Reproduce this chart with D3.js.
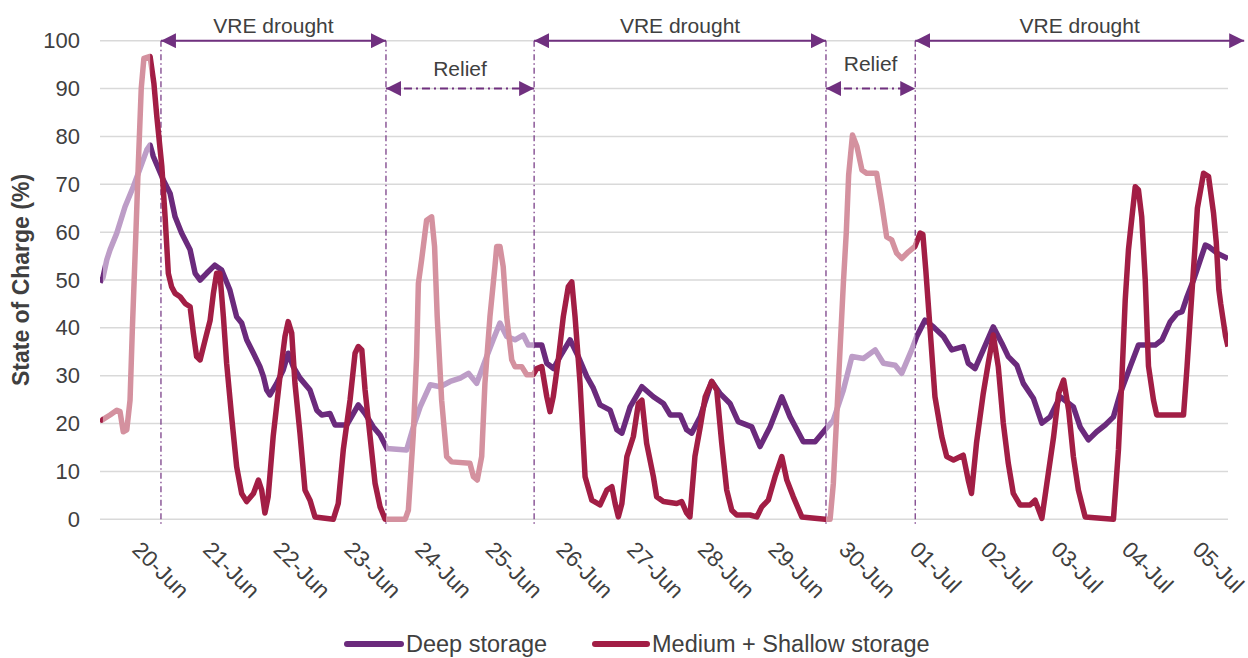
<!DOCTYPE html>
<html>
<head>
<meta charset="utf-8">
<script src="https://cdn.jsdelivr.net/npm/d3@7"></script>
<style>
  html, body { margin: 0; padding: 0; background: #ffffff; }
  svg { display: block; font-family: "Liberation Sans", Arial, sans-serif; }
</style>
</head>
<body>
<svg id="chart" width="1248" height="658"></svg>
<script>
// ---------- DATA (hours measured from 20-Jun 00:00) ----------
const dateLabels = ['20-Jun','21-Jun','22-Jun','23-Jun','24-Jun','25-Jun','26-Jun','27-Jun','28-Jun','29-Jun','30-Jun','01-Jul','02-Jul','03-Jul','04-Jul','05-Jul'];
const yTicks = [0,10,20,30,40,50,60,70,80,90,100];

const deepHours = [-10,-9,-7.7,-6.6,-4.3,-1.5,1.3,3.0,5.9,7.0,8.1,11.5,13.8,15.5,17.7,20.6,22.3,24.0,26.2,29.0,31.3,34.1,36.4,38.1,39.8,42.1,44.3,45.5,46.6,47.7,50.0,52.2,53.9,55.6,57.9,61.3,63.6,65.3,68.1,69.8,73.8,76.0,77.7,80.0,82.8,85.1,87.4,94.1,96.4,98.7,102.1,105.5,108.9,112.3,115.1,117.9,121.3,123.5,125.8,128.1,130.9,133.7,135.4,140.0,141.7,144.0,146.2,149.6,152.4,155.3,157.5,159.8,163.2,165.5,167.2,170.0,174.0,177.9,181.3,183.6,187.0,189.2,190.9,193.8,197.7,200.5,203.9,206.7,211.3,214.1,217.5,221.5,224.3,228.8,232.8,236.2,239.0,242.4,245.3,249.2,253.2,256.0,260.0,262.2,265.6,267.3,270.1,273.0,276.4,279.2,283.1,284.8,287.1,289.9,293.3,296.2,298.4,301.3,303.5,306.9,309.8,312.6,316.0,320.5,322.8,325.6,328.4,331.3,334.1,336.4,339.8,342.6,348.3,350.6,353.4,355.7,357.4,359.1,361.3,363.6,365.3,366.4,369.3,373.0];
const deepValues = [49.5,50.5,54.2,56.3,59.8,65.3,69.5,72.3,77.2,78.2,75.8,70.9,68.1,63.2,59.8,56.3,51.4,50,51.4,53.1,52.1,47.9,42.3,41,37.5,34.7,31.9,29.8,27,26,28.4,31.2,34.7,31.9,29.5,27,22.8,21.8,22.1,19.7,19.7,22.1,23.9,22.1,19.3,17.6,14.8,14.5,19.3,23.5,28.1,27.7,28.8,29.5,30.5,28.4,34,37.5,41,38.2,37.5,38.5,36.4,36.4,32.6,31.5,34,37.5,34,29.8,27.4,23.9,22.8,18.7,18,23.5,27.7,25.6,24.2,21.8,21.8,18.7,18,21.4,28.8,26.3,24.2,20.4,19.3,15.2,19.3,25.6,21.4,16.2,16.2,18.7,20.7,27,34,33.6,35.4,32.6,32.2,30.5,35.4,38.2,41.6,40.2,38.2,35.4,36.1,32.6,31.5,35.4,40.2,36.8,34,32.2,28.4,25.3,20.1,21.4,25.6,23.5,19.3,16.6,18.3,19.7,21.4,26.3,31.9,36.4,36.4,37.5,41.3,43,43.4,46.5,50,54.2,57.3,57,55.6,54.5];

const msHours = [-10,-9.4,-6.6,-4.3,-3.2,-2.1,-0.9,0.2,1.0,2.2,3.0,4.0,4.9,7.0,8.3,9.3,11.0,12.1,13.2,14.3,15.5,17.2,18.9,20.6,21.7,22.8,24.0,25.7,27.4,28.5,29.6,30.7,31.9,33.0,34.7,36.4,38.1,39.8,42.1,43.8,44.9,46.0,47.1,48.8,51.1,52.8,53.9,55.1,56.2,57.9,59.6,61.3,63.0,69.2,70.9,72.6,74.9,76.6,77.7,78.9,80.0,81.7,83.4,85.1,86.8,93.6,94.7,96.4,97.5,98.1,99.2,100.9,102.6,103.6,104.5,106.0,107.7,109.4,115.6,116.8,118.1,119.6,120.7,122.4,124.1,124.7,125.8,126.9,128.1,129.8,130.9,133.2,134.9,137.1,138.3,140.0,141.7,142.8,143.9,145.6,147.3,149.0,150.2,151.3,153.0,154.7,157.0,159.8,162.1,163.8,164.9,166.0,167.2,168.9,171.1,172.8,174.0,175.6,177.9,179.0,181.3,185.8,187.5,189.2,190.3,192.0,193.8,195.5,197.7,199.4,201.1,202.8,204.5,206.2,210.7,213.0,214.7,216.9,219.2,221.5,223.2,225.4,228.3,236.2,237.9,239.0,240.7,242.4,243.4,244.2,245.5,247.0,248.7,250.3,253.7,255.4,257.1,258.8,260.5,262.2,264.5,266.7,268.5,269.4,270.4,273.5,275.8,277.5,279.8,283.1,284.8,285.9,287.6,289.9,291.6,293.3,295.0,296.7,298.4,300.1,302.4,305.8,307.5,309.8,311.5,313.8,315.5,317.2,318.9,320.5,322.2,324.5,334.1,335.8,336.9,338.1,339.2,339.8,341.5,342.6,343.7,344.9,346.0,347.7,348.8,357.9,359.1,360.2,361.7,362.6,364.7,366.4,368.1,369.0,369.9,370.5,372.2,373.0];
const msValues = [21,20.7,21.8,22.8,22.5,18.3,18.7,24.9,40,60,74,90,96.3,96.7,91.1,84.1,73.7,63.2,51.4,48.6,47.2,46.5,45.1,44.4,38.9,34,33.3,37.5,41.6,47.2,51.4,51.4,42.3,32.6,21.4,11,5.4,3.7,5.4,8.2,6.1,1.3,4.7,17.3,29.8,38.2,41.3,38.9,28.4,18,6.1,4,0.5,0,3.3,14.5,24.9,34.7,36.1,35.4,27,17.3,7.5,2.6,0,0,1.9,18,34,49.3,54.2,62.5,63.2,57,42.3,24.9,13.1,12,11.7,8.9,8.2,13.1,28.4,42.3,52.8,57,57,52.8,42.3,33.3,31.9,31.9,30.2,30.2,31.5,31.9,25.6,22.5,25.6,33.3,42.3,48.6,49.6,42.3,28.4,8.9,4,3,6.1,6.8,3.3,0.5,3.3,13.1,17.3,24.2,24.9,15.9,8.9,4.7,3.7,3.3,3.7,1.3,0.5,13.1,19.3,25.6,28.8,27,15.9,6.1,1.9,0.9,0.9,0.5,2.6,4,8.9,13.1,8.2,4.7,0.5,0,0,7.5,28.4,49.3,60,72,80.3,77.9,73,72.3,72.3,66,59,58.4,55.6,54.5,55.9,57,59.8,59.5,52,25.6,17.3,13.1,12.4,13.4,8.2,5.4,15.9,26.3,32.6,38.5,31.9,20.1,11.7,5.4,3,3,4,0.2,7.5,17.3,26.3,29.1,22.8,13.1,6.1,0.5,0,14.5,28.4,45.8,56.3,59.8,69.5,68.8,63.2,50,32,24.9,21.8,21.8,31.9,42.3,56,65,72.3,71.6,63.9,58,48,45.1,38.2,36.1];

// periods (hours): shaded light where not "drought"
const lightPeriods = [[-9,7],[87.1,137.4],[236.5,266.8]];
const darkPeriods = [[-10,-9],[7,87.1],[137.4,236.5],[266.8,373]];
const droughtArrows = [[10.7,87.1],[137.4,236.5],[266.8,378.5]];
const reliefArrows = [[87.1,137.4],[236.5,266.8]];
const dividerHours = [10.7,87.1,137.4,236.5,266.8];

const seriesNames = ['Deep storage','Medium + Shallow storage'];

// ---------- STYLE ----------
const C = {
  deepDark: '#6B2A7C', deepLight: '#BD9DC7',
  msDark: '#A21E45', msLight: '#D4919F',
  annot: '#70307F', grid: '#D9D9D9', text: '#404040'
};

const svg = d3.select('#chart');
const x = d3.scaleLinear().domain([-10, 373]).range([100, 1228]);
const y = d3.scaleLinear().domain([0, 100]).range([519.3, 40.7]);

// defs: clip paths + markers
const defs = svg.append('defs');
function addClip(id, periods) {
  const cp = defs.append('clipPath').attr('id', id);
  periods.forEach(p => {
    cp.append('rect').attr('x', x(p[0])).attr('y', 0)
      .attr('width', x(p[1]) - x(p[0])).attr('height', 658);
  });
}
addClip('clipDark', darkPeriods);
addClip('clipLight', lightPeriods);

['start','end'].forEach(k => {
  defs.append('marker').attr('id', 'arr-' + k)
    .attr('viewBox', '0 0 15 15').attr('refX', k === 'end' ? 15 : 0).attr('refY', 7.5)
    .attr('markerUnits', 'userSpaceOnUse')
    .attr('markerWidth', 15).attr('markerHeight', 15).attr('orient', 'auto')
    .append('path')
    .attr('d', k === 'end' ? 'M0,0 L15,7.5 L0,15 Z' : 'M15,0 L0,7.5 L15,15 Z')
    .attr('fill', C.annot);
});

// gridlines
svg.append('g').selectAll('line').data(yTicks).join('line')
  .attr('x1', x(-10)).attr('x2', x(373))
  .attr('y1', d => y(d)).attr('y2', d => y(d))
  .attr('stroke', C.grid).attr('stroke-width', 1.5);

// y axis via d3.axisLeft (labels only)
const yAxis = svg.append('g').attr('transform', 'translate(84,0)')
  .call(d3.axisLeft(y).tickValues(yTicks).tickSize(0).tickPadding(4));
yAxis.select('.domain').remove();
yAxis.selectAll('text').attr('fill', C.text).style('font-size', '22px')
  .style('font-family', '"Liberation Sans", Arial, sans-serif');

// y title
svg.append('text').attr('transform', 'translate(29,280) rotate(-90)')
  .attr('text-anchor', 'middle').attr('fill', C.text)
  .style('font-size', '23px').style('font-weight', 'bold')
  .text('State of Charge (%)');

// x labels
svg.append('g').selectAll('text').data(dateLabels).join('text')
  .attr('transform', (d, i) => `translate(${x(i * 24) + 1.5},551) rotate(45)`)
  .attr('text-anchor', 'start').attr('fill', C.text)
  .style('font-size', '22.5px').text(d => d);

// divider lines
svg.append('g').selectAll('line').data(dividerHours).join('line')
  .attr('x1', d => x(d)).attr('x2', d => x(d))
  .attr('y1', y(100)).attr('y2', y(0) + 7)
  .attr('stroke', C.annot).attr('stroke-width', 1.2)
  .attr('stroke-dasharray', '6,3,1.5,3');

// series lines
const line = d3.line().x(d => x(d[0])).y(d => y(d[1]));
const deepData = deepHours.map((h, i) => [h, deepValues[i]]);
const msData = msHours.map((h, i) => [h, msValues[i]]);

function drawSeries(data, dark, light) {
  svg.append('path').datum(data).attr('d', line)
    .attr('fill', 'none').attr('stroke', light).attr('stroke-width', 5.5)
    .attr('stroke-linejoin', 'round').attr('clip-path', 'url(#clipLight)');
  svg.append('path').datum(data).attr('d', line)
    .attr('fill', 'none').attr('stroke', dark).attr('stroke-width', 5.5)
    .attr('stroke-linejoin', 'round').attr('clip-path', 'url(#clipDark)');
}
drawSeries(deepData, C.deepDark, C.deepLight);
drawSeries(msData, C.msDark, C.msLight);

// arrows
svg.append('g').selectAll('line').data(droughtArrows).join('line')
  .attr('x1', d => x(d[0])).attr('x2', d => x(d[1]))
  .attr('y1', y(100)).attr('y2', y(100))
  .attr('stroke', C.annot).attr('stroke-width', 2)
  .attr('marker-start', 'url(#arr-start)').attr('marker-end', 'url(#arr-end)');
svg.append('g').selectAll('text').data(droughtArrows).join('text')
  .attr('x', d => (x(d[0]) + x(d[1])) / 2).attr('y', y(100) - 8)
  .attr('text-anchor', 'middle').attr('fill', C.text)
  .style('font-size', '21px').text('VRE drought');

svg.append('g').selectAll('line').data(reliefArrows).join('line')
  .attr('x1', d => x(d[0])).attr('x2', d => x(d[1]))
  .attr('y1', y(90)).attr('y2', y(90))
  .attr('stroke', C.annot).attr('stroke-width', 2)
  .attr('stroke-dasharray', '8,4,2,4')
  .attr('marker-start', 'url(#arr-start)').attr('marker-end', 'url(#arr-end)');
svg.append('g').selectAll('text').data(reliefArrows).join('text')
  .attr('x', d => (x(d[0]) + x(d[1])) / 2).attr('y', (d, i) => y(90) - (i === 0 ? 13 : 18))
  .attr('text-anchor', 'middle').attr('fill', C.text)
  .style('font-size', '21px').text('Relief');

// legend
const legend = svg.append('g');
const legendItems = [
  { name: seriesNames[0], color: C.deepDark, x0: 347, x1: 401, tx: 406 },
  { name: seriesNames[1], color: C.msDark, x0: 595, x1: 647, tx: 652 }
];
legendItems.forEach(it => {
  legend.append('line').attr('x1', it.x0).attr('x2', it.x1)
    .attr('y1', 644).attr('y2', 644)
    .attr('stroke', it.color).attr('stroke-width', 6).attr('stroke-linecap', 'round');
  legend.append('text').attr('x', it.tx).attr('y', 652)
    .attr('fill', C.text).style('font-size', '23.5px').text(it.name);
});
</script>
</body>
</html>
